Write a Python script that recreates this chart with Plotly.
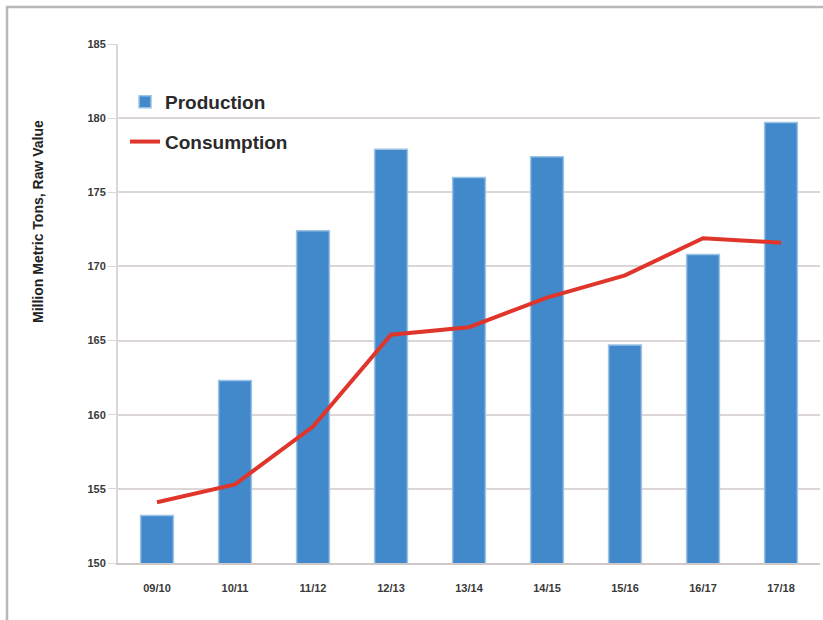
import plotly.graph_objects as go

seasons = ["09/10", "10/11", "11/12", "12/13", "13/14", "14/15", "15/16", "16/17", "17/18"]
production = [153.2, 162.3, 172.4, 177.9, 176.0, 177.4, 164.7, 170.8, 179.7]
consumption = [154.1, 155.3, 159.2, 165.4, 165.9, 167.9, 169.4, 171.9, 171.6]
y_ticks = [150, 155, 160, 165, 170, 175, 180, 185]

W, H = 823, 620
ML, MR, MT, MB = 118, 3, 44, 57
pw, ph = W - ML - MR, H - MT - MB

fig = go.Figure()
fig.add_trace(go.Bar(
    x=seasons, y=production, name="<b>Production</b>", legendgroup="p",
    marker=dict(color="#4189cb", line=dict(color="#9cc2e6", width=1.5)),
    width=0.42,
))
fig.add_trace(go.Scatter(
    x=seasons, y=consumption, name="<b>Consumption</b>", mode="lines", legendgroup="c",
    line=dict(color="#e0352b", width=4),
))

fx = lambda px: (px - ML) / pw
fy = lambda py: 1 - (py - MT) / ph
shapes = [
    dict(type="line", xref="paper", yref="paper", x0=fx(7), x1=fx(7), y0=fy(7), y1=fy(620),
         line=dict(color="#b8b8bc", width=2.5)),
    dict(type="line", xref="paper", yref="paper", x0=fx(6), x1=fx(823), y0=fy(7), y1=fy(7),
         line=dict(color="#b8b8bc", width=2.5)),
]

fig.update_layout(
    width=W, height=H,
    margin=dict(l=ML, r=MR, t=MT, b=MB),
    paper_bgcolor="white", plot_bgcolor="white",
    font=dict(family="Liberation Sans, Arial, sans-serif", color="#333333"),
    bargap=0.58,
    showlegend=True,
    legend=dict(x=0.01, y=fy(83), xanchor="left", yanchor="top",
                font=dict(size=19, color="#2a2a2a"), bgcolor="rgba(0,0,0,0)",
                itemwidth=30, tracegroupgap=12),
    xaxis=dict(
        showgrid=False, showline=True, linecolor="#cfc8c8", linewidth=2,
        tickfont=dict(size=11, color="#3a3a3a"),
        ticks="", ticklabelstandoff=14,
        tickvals=seasons, ticktext=[f"<b>{s}</b>" for s in seasons],
    ),
    yaxis=dict(
        range=[150, 185], tickvals=y_ticks, ticktext=[f"<b>{v}</b>" for v in y_ticks],
        showgrid=True, gridcolor="#ddd6d6", gridwidth=2,
        showline=True, linecolor="#ddd6d6", linewidth=2,
        ticks="outside", ticklen=8, tickcolor="#ddd6d6",
        tickfont=dict(size=11, color="#3a3a3a"),
        zeroline=False,
    ),
    shapes=shapes,
    annotations=[dict(
        text="<b>Million Metric Tons, Raw Value</b>", textangle=-90,
        xref="paper", yref="paper", x=fx(38), y=fy(222),
        xanchor="center", yanchor="middle", showarrow=False,
        font=dict(size=14, color="#222222"),
    )],
)

fig.write_html("out.html")
